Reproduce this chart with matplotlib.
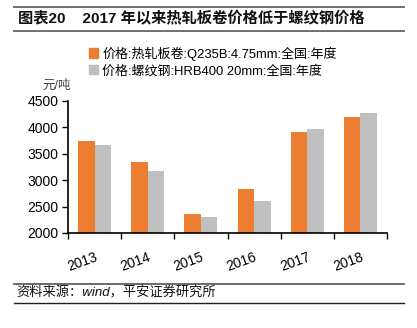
import matplotlib
matplotlib.use("Agg")
import matplotlib.pyplot as plt
import numpy as np
from matplotlib.lines import Line2D
from matplotlib.patches import Patch

plt.rcParams['font.family'] = ['Liberation Sans', 'Noto Sans CJK SC']

years = ['2013', '2014', '2015', '2016', '2017', '2018']
hot_rolled = [3742, 3350, 2354, 2828, 3907, 4203]
rebar = [3667, 3180, 2303, 2600, 3970, 4267]
series_names = ['价格:热轧板卷:Q235B:4.75mm:全国:年度',
                '价格:螺纹钢:HRB400 20mm:全国:年度']
orange = '#ED7D31'
grey = '#BFBFBF'

W, H = 417, 328
fig = plt.figure(figsize=(W / 100, H / 100), dpi=100)

def fx(px):
    return px / W

def fy(py):
    return 1 - py / H

# header / footer rules
for y, c, lw in [(7, '#707070', 1.4), (31, '#707070', 1.4), (284, '#505050', 1.2), (303, '#202020', 1.0)]:
    fig.add_artist(Line2D([fx(14), fx(404)], [fy(y), fy(y)], color=c, lw=lw))

fig.text(fx(18), fy(19), '图表20    2017 年以来热轧板卷价格低于螺纹钢价格',
         fontsize=11, fontweight='bold', va='center', ha='left', color='#111111')
fig.text(fx(16), fy(293), '资料来源：wind，平安证券研究所',
         fontsize=9.5, va='center', ha='left', color='#111111', style='italic')

ax = fig.add_axes([fx(68), fy(233), fx(387) - fx(68), fy(101) - fy(233)])
x = np.arange(len(years))
w = 0.31
ax.bar(x - w / 2, hot_rolled, w, color=orange)
ax.bar(x + w / 2, rebar, w, color=grey)

ax.set_xlim(-0.5, len(years) - 0.5)
ax.set_ylim(2000, 4500)
ax.set_yticks(range(2000, 4501, 500))
ax.tick_params(axis='y', labelsize=10, length=4, width=1, pad=3)
ax.set_xticks(x)
ax.set_xticklabels(years, rotation=20, ha='right', rotation_mode='anchor', fontsize=10)
ax.tick_params(axis='x', which='major', length=0, pad=12)
ax.set_xticks(np.arange(-0.5, len(years)), minor=True)
ax.tick_params(axis='x', which='minor', length=4, width=1)
for s in ['top', 'right']:
    ax.spines[s].set_visible(False)
ax.spines['left'].set_linewidth(1.2)
ax.spines['bottom'].set_linewidth(1.2)

fig.text(fx(57), fy(86), '元/吨', fontsize=9, ha='center', va='center', color='#444444')

handles = [Patch(color=orange), Patch(color=grey)]
fig.legend(handles, series_names, loc='upper left', bbox_to_anchor=(fx(84), fy(41)),
           frameon=False, fontsize=9.4, handlelength=0.7, handleheight=0.7,
           handletextpad=0.3, labelspacing=0.3, borderaxespad=0)

fig.savefig('out.png', dpi=100)
